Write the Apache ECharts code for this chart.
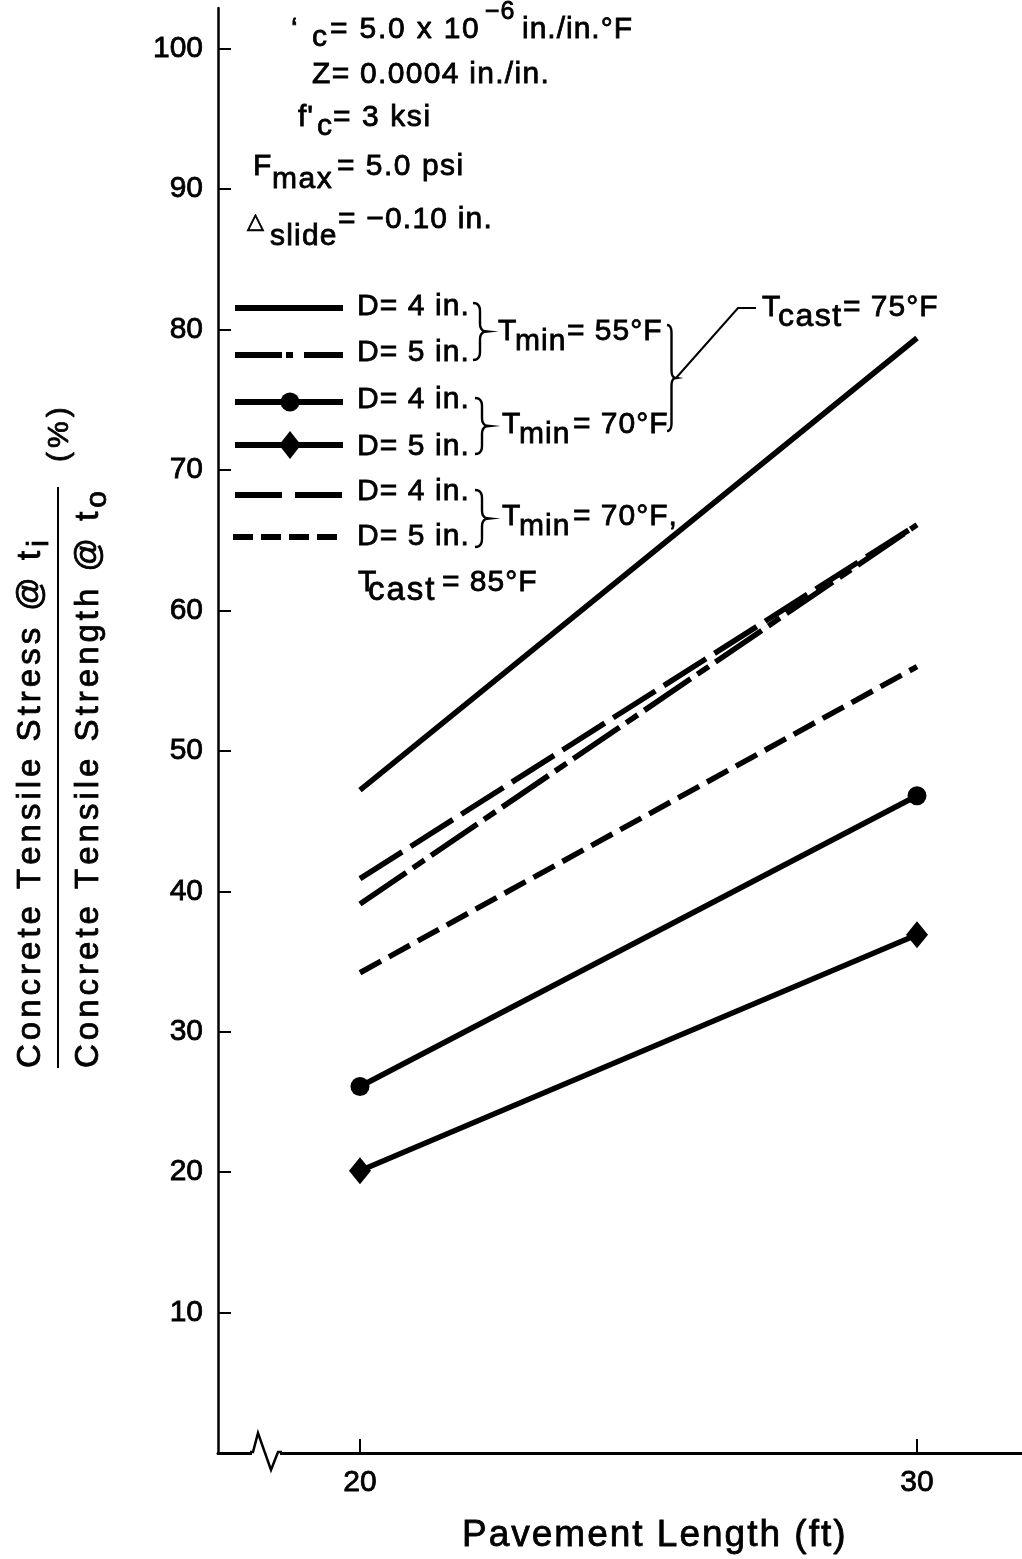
<!DOCTYPE html>
<html><head><meta charset="utf-8">
<script src="https://cdn.jsdelivr.net/npm/echarts@6/dist/echarts.min.js"></script>
<style>html,body{margin:0;padding:0;background:#fff}#c{width:1022px;height:1559px}</style>
</head><body><div id="c"></div>
<script>
// ---------- data ----------
const lengths = [20, 30];                 // pavement length (ft)
const d4Tmin55 = [47.2, 79.4];            // solid
const d5Tmin55 = [39.1, 66.1];            // dash-dot
const d4Tmin70 = [26.1, 46.8];            // circle markers
const d5Tmin70 = [20.1, 36.9];            // diamond markers
const d4Tmin70Cast85 = [40.9, 66.1];      // long dash
const d5Tmin70Cast85 = [34.2, 56.0];      // short dash
const xTicks = [20, 30];
const yTicks = [10, 20, 30, 40, 50, 60, 70, 80, 90, 100];

// ---------- helpers ----------
const FF = '"Liberation Sans", Arial, Helvetica, sans-serif';
const mc = document.createElement('canvas').getContext('2d');
function tw(t, s, fam) { mc.font = s + 'px ' + (fam || FF); return mc.measureText(t).width; }
function run(parts, baseY, ls) {
  const out = [];
  let cx = 0;
  parts.forEach(p => {
    const s = p.s || 30, fam = p.f || FF;
    if (p.x !== undefined) cx = p.x;
    const by = baseY + (p.dy || 0);
    const l = p.ls !== undefined ? p.ls : ls;
    for (const ch of p.t) {
      if (ch !== ' ') out.push({
        type: 'text', x: cx, y: by - 0.35 * s, silent: true,
        style: { text: ch, font: s + 'px ' + fam, fill: '#000', stroke: '#000', lineWidth: 0.8,
                 textAlign: 'left', textVerticalAlign: 'middle' }
      });
      cx += tw(ch, s, fam) + l;
    }
  });
  return out;
}
function quad(p0, c, p1, n) {
  const pts = [];
  for (let i = 0; i <= n; i++) {
    const t = i / n, a = (1 - t) * (1 - t), b = 2 * (1 - t) * t, d = t * t;
    pts.push([a * p0[0] + b * c[0] + d * p1[0], a * p0[1] + b * c[1] + d * p1[1]]);
  }
  return pts;
}
function brace(x0, y0, y1, w, ym) {
  ym = ym === undefined ? (y0 + y1) / 2 : ym;
  const xm = x0 + w * 0.5, r = Math.min(8, (y1 - y0) / 6), xt = x0 + w;
  let pts = [];
  pts = pts.concat(quad([x0, y0], [xm, y0], [xm, y0 + r], 6));
  pts.push([xm, ym - r]);
  pts = pts.concat(quad([xm, ym - r], [xm, ym], [xt, ym], 6));
  pts = pts.concat(quad([xt, ym], [xm, ym], [xm, ym + r], 6));
  pts.push([xm, y1 - r]);
  pts = pts.concat(quad([xm, y1 - r], [xm, y1], [x0, y1], 6));
  return { type: 'polyline', silent: true, shape: { points: pts }, style: { stroke: '#000', lineWidth: 2.4, fill: null } };
}
function lineSeg(x1, y1, x2, y2, w, dash) {
  return { type: 'line', silent: true, shape: { x1, y1, x2, y2 }, style: { stroke: '#000', lineWidth: w, lineDash: dash || null } };
}
const pairs = arr => lengths.map((x, i) => [x, arr[i]]);

// ---------- graphic annotations ----------
const G = [];
// parameter block
G.push(...run([{ t: '‘', x: 291 }, { t: 'c', x: 312, dy: 8 }, { t: '= 5.0 x 10', x: 330, ls: 1.8 }, { t: '−6', x: 485, s: 25, dy: -19 }, { t: 'in./in.°F', x: 522 }], 40, 1));
G.push(...run([{ t: 'Z= 0.0004 in./in.', x: 312 }], 85, 1.3));
G.push(...run([{ t: "f'", x: 298 }, { t: 'c', x: 317, dy: 9 }, { t: '= 3 ksi', x: 333, ls: 1.6 }], 128, 1));
G.push(...run([{ t: 'F', x: 253 }, { t: 'max', x: 272, dy: 13 }, { t: '= 5.0 psi', x: 337 }], 177, 1.5));
G.push(...run([{ t: '△', x: 247, s: 22, f: '"DejaVu Sans", sans-serif' }, { t: 'slide', x: 270, dy: 17 }, { t: '= −0.10 in.', x: 338 }], 230, 1.2));

// legend samples
const LX1 = 235, LX2 = 343;
G.push(lineSeg(LX1, 308, LX2, 308, 6));
G.push(lineSeg(LX1, 355, LX2, 355, 6, [47, 4, 7, 11]));
G.push(lineSeg(LX1, 402, LX2, 402, 6));
G.push({ type: 'circle', silent: true, shape: { cx: 290, cy: 402, r: 9.5 }, style: { fill: '#000' } });
G.push(lineSeg(LX1, 445, LX2, 445, 6));
G.push({ type: 'polygon', silent: true, shape: { points: [[290, 431], [301, 445], [290, 459], [279, 445]] }, style: { fill: '#000' } });
G.push(lineSeg(LX1, 495, LX2, 495, 6, [47, 13]));
G.push(lineSeg(LX1 - 2, 537, LX2, 537, 6, [20, 8]));
const legBase = [317, 363, 410, 457, 502, 547];
const legText = ['D= 4 in.', 'D= 5 in.', 'D= 4 in.', 'D= 5 in.', 'D= 4 in.', 'D= 5 in.'];
legBase.forEach((b, i) => G.push(...run([{ t: legText[i], x: 357 }], b, 1.1)));
G.push(brace(473, 303, 360, 14));
G.push(brace(475, 398, 454, 14));
G.push(brace(475, 490, 547, 14));
G.push(...run([{ t: 'T', x: 498 }, { t: 'min', x: 515, dy: 10 }, { t: '= 55°F', x: 567 }], 342, 1));
G.push(...run([{ t: 'T', x: 502 }, { t: 'min', x: 519, dy: 10 }, { t: '= 70°F', x: 573 }], 435, 1));
G.push(...run([{ t: 'T', x: 502 }, { t: 'min', x: 519, dy: 10 }, { t: '= 70°F,', x: 573 }], 527, 1));
G.push(...run([{ t: 'T', x: 358 }, { t: 'cast', x: 368, dy: 9, s: 33, ls: 2 }, { t: '= 85°F', x: 442 }], 593, 1));
// big bracket + leader
G.push(brace(667, 325, 431, 9, 378));
G.push({ type: 'polyline', silent: true, shape: { points: [[676, 378], [738, 308], [756, 308]] }, style: { stroke: '#000', lineWidth: 2, fill: null } });
G.push(...run([{ t: 'T', x: 762 }, { t: 'cast', x: 778, dy: 10, s: 32, ls: 1.5 }, { t: '= 75°F', x: 843 }], 318, 1));

// x-axis title
G.push(...run([{ t: 'Pavement Length (ft)', x: 462, s: 37 }], 1549, 2.0));

// y-axis title (rotated fraction)
G.push({ type: 'group', x: 0, y: 1068, rotation: Math.PI / 2,
  children: run([{ t: 'Concrete Tensile Stress @ t', s: 33 }, { t: 'i', s: 30, dy: 8 }], 42, 4) });
G.push({ type: 'group', x: 0, y: 1068, rotation: Math.PI / 2,
  children: run([{ t: 'Concrete Tensile Strength @ t', s: 33 }, { t: 'o', s: 30, dy: 8 }], 100, 4) });
G.push({ type: 'group', x: 0, y: 462, rotation: Math.PI / 2,
  children: run([{ t: '(%)', s: 30 }], 70, 4) });
G.push(lineSeg(58, 487, 58, 1068, 2));

// axis break
G.push({ type: 'rect', silent: true, z: 10, shape: { x: 252, y: 1447, width: 28, height: 11 }, style: { fill: '#fff' } });
G.push({ type: 'polyline', silent: true, z: 11, shape: { points: [[250, 1452], [253, 1452], [258, 1433], [271, 1470], [278, 1452], [282, 1452]] }, style: { stroke: '#000', lineWidth: 2.5, fill: null } });

// ---------- chart ----------
const chart = echarts.init(document.getElementById('c'), null, { renderer: 'canvas' });
const lineStyleBase = { color: '#000', width: 5.5 };
const labelStyle = { color: '#000', fontSize: 30, fontFamily: FF, textBorderColor: '#000', textBorderWidth: 0.8 };
chart.setOption({
  animation: false,
  backgroundColor: '#fff',
  grid: { left: 218, right: 0, top: 8, bottom: 106 },
  xAxis: {
    type: 'value', min: 17.451, max: 31.885,
    axisLine: { show: true, onZero: false, lineStyle: { color: '#000', width: 3 } },
    axisTick: { show: true, inside: true, length: 14, customValues: xTicks, lineStyle: { color: '#000', width: 2 } },
    axisLabel: { customValues: xTicks, margin: 15, ...labelStyle },
    splitLine: { show: false }
  },
  yAxis: {
    type: 'value', min: 0, max: 102.9,
    axisLine: { show: true, lineStyle: { color: '#000', width: 2.5 } },
    axisTick: { show: true, inside: true, length: 13, customValues: yTicks, lineStyle: { color: '#000', width: 2 } },
    axisLabel: { customValues: yTicks, margin: 15, ...labelStyle },
    splitLine: { show: false }
  },
  series: [
    { name: 'D=4 Tmin55', type: 'line', data: pairs(d4Tmin55), symbol: 'none', lineStyle: { ...lineStyleBase } },
    { name: 'D=5 Tmin55', type: 'line', data: pairs(d5Tmin55), symbol: 'none', lineStyle: { ...lineStyleBase, type: [56, 8, 14, 8] } },
    { name: 'D=4 Tmin70', type: 'line', data: pairs(d4Tmin70), symbol: 'circle', symbolSize: 19, itemStyle: { color: '#000' }, lineStyle: { ...lineStyleBase } },
    { name: 'D=5 Tmin70', type: 'line', data: pairs(d5Tmin70), symbol: 'diamond', symbolSize: [22, 27], itemStyle: { color: '#000' }, lineStyle: { ...lineStyleBase } },
    { name: 'D=4 Tmin70 Tcast85', type: 'line', data: pairs(d4Tmin70Cast85), symbol: 'none', lineStyle: { ...lineStyleBase, type: [50, 10] } },
    { name: 'D=5 Tmin70 Tcast85', type: 'line', data: pairs(d5Tmin70Cast85), symbol: 'none', lineStyle: { ...lineStyleBase, type: [24, 9] } }
  ],
  graphic: { elements: G }
});
</script></body></html>
